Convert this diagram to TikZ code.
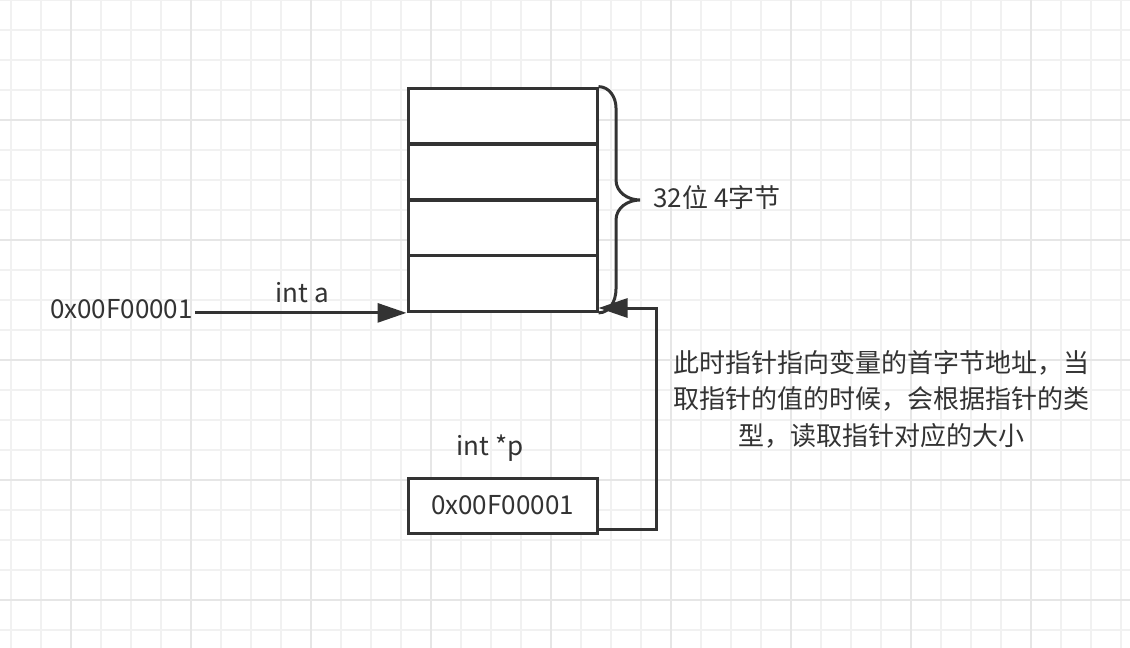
\documentclass[tikz,border=0pt]{standalone}
\usepackage{fontspec}
\setmainfont{Noto Sans CJK SC}
\usetikzlibrary{arrows.meta}
\definecolor{ink}{HTML}{333333}
\definecolor{gridminor}{HTML}{F1F1F1}
\definecolor{gridmajor}{HTML}{E6E6E6}

\begin{document}
\begin{tikzpicture}[x=1pt, y=-1pt, every node/.style={font=\fontsize{26}{36.5}\selectfont, text=ink}, >={Triangle[length=29pt, width=19pt]},
	cell/.style={draw=ink, fill=white, line width=3pt, minimum width=189pt, minimum height=55.75pt, inner sep=0pt},
	link/.style={->, draw=ink, line width=3pt},
	minorline/.style={gridminor, line width=1.5pt},
	majorline/.style={gridmajor, line width=2pt}]
	\useasboundingbox (0,0) rectangle (1130,648);
	\fill[white] (0,0) rectangle (1130,648);
	\foreach \x in {11,41,...,1130} \draw[minorline] (\x,0) -- (\x,648);
	\foreach \y in {0,30,...,648} \draw[minorline] (0,\y) -- (1130,\y);
	\foreach \x in {71,191,...,1130} \draw[majorline] (\x,0) -- (\x,648);
	\foreach \y in {120,240,...,648} \draw[majorline] (0,\y) -- (1130,\y);
	\node[cell] (c1) at (502.5,116) {};
	\node[cell] (c2) at (502.5,172) {};
	\node[cell] (c3) at (502.5,228) {};
	\node[cell] (c4) at (502.5,283.5) {};
	\draw[ink, line width=3pt] (c1.north east) to[out=0, in=90] (616,108) -- (616,180) to[out=-90, in=180] (640,200) to[out=180, in=90] (616,220) -- (616,289) to[out=-90, in=0] (c4.south east);
	\node[anchor=base west] (bits) at (650,207) {32位 4字节};
	\node[anchor=base east, inner sep=2pt] (addr) at (195,318) {0x00F00001};
	\node[anchor=base] (aname) at (302,302) {int a};
	\draw[link] (c4.south west -| addr.east) -- (c4.south west);
	\node[cell, minimum height=55pt] (ptr) at (502.5,505.5) {0x00F00001};
	\node[anchor=base] (pname) at (490,455) {int *p};
	\coordinate (bend) at (656,308);
	\draw[link] ([yshift=5pt]ptr.south east) -| (bend) -- (bend -| c4.east);
	\node[align=center] (note) at (881,399) {此时指针指向变量的首字节地址，当\\取指针的值的时候，会根据指针的类\\型，读取指针对应的大小};
\end{tikzpicture}
\end{document}
